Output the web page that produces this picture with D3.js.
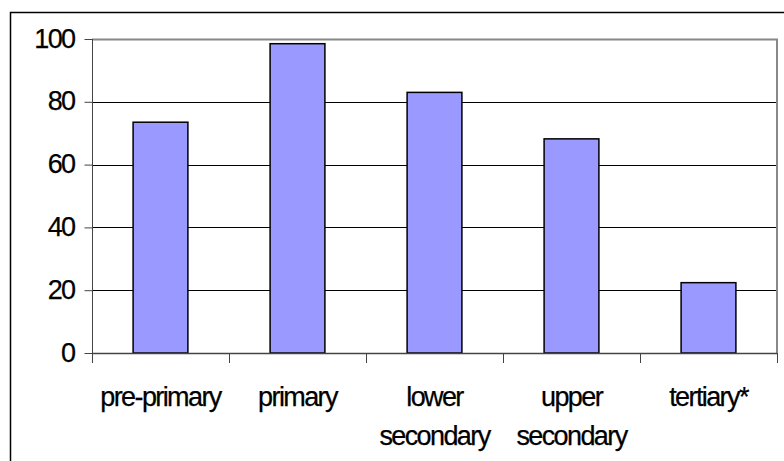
<!DOCTYPE html>
<html>
<head>
<meta charset="utf-8">
<script src="https://cdn.jsdelivr.net/npm/d3@7/dist/d3.min.js"></script>
<style>
  html, body { margin: 0; padding: 0; background: #fff; }
  svg { display: block; }
  text { font-family: "Liberation Sans", Arial, sans-serif; font-size: 27px; letter-spacing: -1.6px; fill: #000; stroke: #000; stroke-width: 0.25px; }
</style>
</head>
<body>
<svg id="chart" width="784" height="461"></svg>
<script>
// Enrolment by level of education
const categories = [["pre-primary"], ["primary"], ["lower", "secondary"], ["upper", "secondary"], ["tertiary*"]];
const values = [73.5, 98.5, 83, 68.2, 22.4];
const yTicks = [0, 20, 40, 60, 80, 100];

const svg = d3.select("#chart");
const plot = { left: 92, right: 777, top: 39, bottom: 353 };

// outer frame (runs off the right and bottom edges)
svg.append("rect")
  .attr("x", 10.5).attr("y", 12.5)
  .attr("width", 900).attr("height", 600)
  .attr("fill", "none").attr("stroke", "#000").attr("stroke-width", 1.5);

const keys = categories.map(c => c.join(" "));

const xBand = d3.scaleBand().domain(keys).range([plot.left, plot.right]).padding(0);
const xBar = d3.scaleBand().domain(keys).range([plot.left, plot.right])
  .paddingInner(0.6).paddingOuter(0.3);
const y = d3.scaleLinear().domain([0, 100]).range([plot.bottom, plot.top]);

// horizontal gridlines
svg.append("g")
  .selectAll("line")
  .data(yTicks.filter(t => t > 0 && t < 100))
  .join("line")
  .attr("x1", plot.left).attr("x2", plot.right)
  .attr("y1", d => Math.round(y(d)) + 0.5).attr("y2", d => Math.round(y(d)) + 0.5)
  .attr("stroke", "#000").attr("stroke-width", 1);

// plot area border (top and right) in grey
svg.append("path")
  .attr("d", `M${plot.left},${plot.top + 0.5}H${plot.right}V${plot.bottom}`)
  .attr("fill", "none").attr("stroke", "#888").attr("stroke-width", 2);

// bars
svg.append("g")
  .selectAll("rect")
  .data(values)
  .join("rect")
  .attr("x", (d, i) => xBar(keys[i]))
  .attr("width", xBar.bandwidth())
  .attr("y", d => y(d))
  .attr("height", d => y(0) - y(d))
  .attr("fill", "#9999ff")
  .attr("stroke", "#000")
  .attr("stroke-width", 1.5);

// y axis
const yAxis = d3.axisLeft(y).tickValues(yTicks).tickSize(8).tickPadding(10).tickFormat(d3.format("d"));
const gy = svg.append("g").attr("transform", `translate(${plot.left + 0.5},0)`).call(yAxis);
gy.select(".domain").attr("stroke", "#444").attr("d", `M0,${plot.top}V${plot.bottom}`);
gy.selectAll(".tick line").attr("stroke", "#444");
gy.selectAll(".tick text")
  .attr("font-family", null).attr("font-size", null)
  .attr("dy", "0.3em");

// x axis line and category boundary ticks
const boundaries = keys.map(k => xBand(k)).concat([plot.right]);
svg.append("line")
  .attr("x1", plot.left).attr("x2", plot.right)
  .attr("y1", plot.bottom + 0.5).attr("y2", plot.bottom + 0.5)
  .attr("stroke", "#444").attr("stroke-width", 1.5);
svg.append("g")
  .selectAll("line")
  .data(boundaries)
  .join("line")
  .attr("x1", d => Math.round(d) + 0.5).attr("x2", d => Math.round(d) + 0.5)
  .attr("y1", plot.bottom).attr("y2", plot.bottom + 10)
  .attr("stroke", "#444").attr("stroke-width", 1);

// category labels
const labels = svg.append("g")
  .selectAll("text")
  .data(categories)
  .join("text")
  .attr("text-anchor", "middle")
  .attr("x", (d, i) => xBand(keys[i]) + xBand.bandwidth() / 2)
  .attr("y", 406);
labels.selectAll("tspan")
  .data(d => d)
  .join("tspan")
  .attr("x", function () { return this.parentNode.getAttribute("x"); })
  .attr("dy", (d, i) => i === 0 ? 0 : 39)
  .text(d => d);
</script>
</body>
</html>
